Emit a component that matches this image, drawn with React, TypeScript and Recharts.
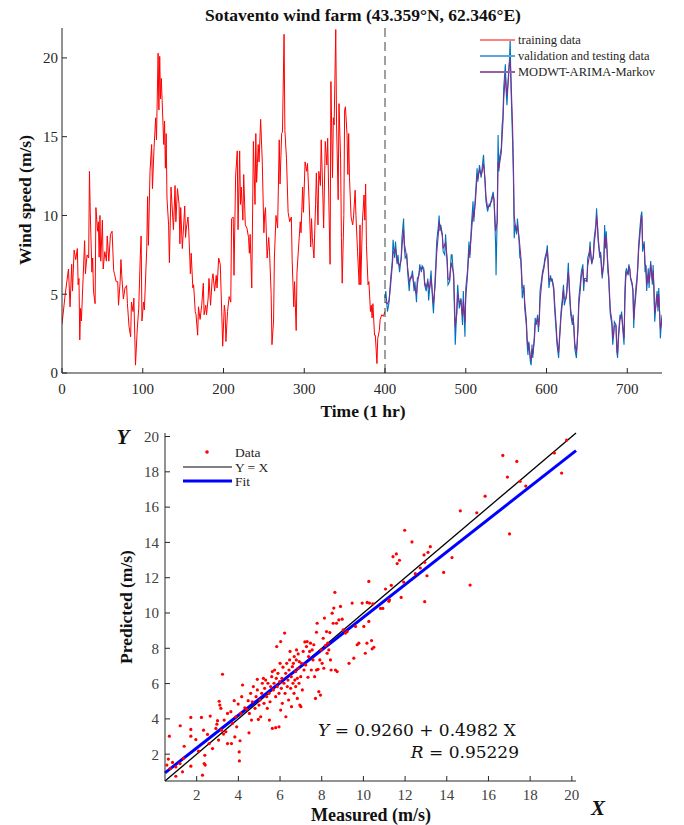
import React from 'react';
import { LineChart, Line, XAxis, YAxis, ReferenceLine, ScatterChart, Scatter } from 'recharts';

const FONT = '"Liberation Serif", "Times New Roman", serif';
const INK = '#262626';

// ---------- top chart data: [time (h), wind speed (m/s)] ----------
const trainingSeries: number[][] = [
  [0,3.1],[4,5.0],[8,6.6],[10,4.2],[12,6.9],[13,5.2],[15,7.8],[17,7.2],[19,7.9],[20,5.6],[21,6.0],[22,2.1],[23,4.1],[24,3.3],
  [28,8.4],[29,6.3],[31,7.5],[33,7.3],[34,12.8],[35,10.2],[37,6.4],[38,7.3],[39,5.2],[41,4.4],[42,10.5],[44,9.0],[45,9.6],
  [46,7.35],[47,10.0],[48,7.1],[50,9.7],[51,6.6],[53,7.7],[55,7.1],[56,8.7],[58,7.1],[60,8.8],[62,9.0],[64,6.5],[65,6.3],
  [67,5.8],[69,5.8],[70,4.3],[72,5.8],[73,7.2],[74,6.2],[76,4.7],[78,5.4],[80,5.55],[81,4.4],[83,2.95],[85,2.3],[86,4.5],
  [88,3.9],[89,4.75],[91,0.5],[93,2.6],[95,4.1],[97,7.5],[98,8.7],[99,3.3],[101,4.5],[102,4.0],[104,6.65],[105,8.0],
  [106,11.2],[107,8.1],[109,12.8],[111,14.5],[112,11.7],[114,14.3],[116,16.2],[117,14.8],[119,20.3],[120,16.7],[121,20.1],
  [122,17.4],[123,18.7],[124,17.3],[126,14.5],[127,16.0],[128,13.0],[129,15.2],[130,11.1],[132,9.4],[133,7.0],[135,11.8],
  [136,10.9],[138,9.1],[140,11.9],[141,9.6],[143,11.7],[145,10.7],[146,8.2],[147,10.5],[149,7.9],[150,8.8],[152,10.6],
  [153,8.6],[154,9.2],[156,9.9],[157,9.0],[159,6.3],[160,7.6],[162,5.4],[163,5.6],[165,3.9],[166,3.7],[168,2.4],[169,4.2],
  [171,3.4],[173,4.3],[175,5.7],[176,3.7],[178,4.3],[179,3.7],[181,4.75],[182,6.0],[184,4.3],[186,6.0],[187,6.3],[189,5.2],
  [191,6.2],[192,5.4],[194,7.3],[196,6.9],[198,3.5],[199,1.7],[201,4.3],[202,3.9],[203,2.0],[205,3.9],[207,4.85],[209,4.5],
  [210,9.8],[212,9.9],[213,6.2],[215,12.5],[217,14.1],[218,9.1],[220,14.1],[221,10.7],[222,11.8],[224,9.7],[225,12.6],
  [227,9.4],[229,9.2],[231,8.6],[232,7.6],[233,8.8],[235,5.4],[237,14.7],[239,10.7],[240,15.2],[241,12.1],[242,13.3],
  [243,14.5],[244,13.4],[246,16.1],[248,13.4],[250,8.9],[251,10.1],[252,10.5],[254,7.3],[256,8.6],[257,7.7],[259,5.0],
  [260,1.8],[262,3.3],[263,7.3],[265,10.0],[267,9.2],[269,14.8],[270,12.0],[272,15.2],[273,15.3],[275,21.5],[276,15.4],
  [278,13.6],[280,10.2],[282,9.6],[284,9.9],[285,7.2],[287,4.2],[288,5.8],[290,2.7],[291,6.4],[293,8.0],[295,9.6],[296,8.9],
  [298,11.8],[299,10.2],[301,13.4],[303,12.8],[304,13.3],[306,10.9],[308,8.0],[309,9.8],[310,8.6],[312,7.3],[314,10.7],
  [315,12.7],[317,9.4],[318,12.8],[320,11.9],[321,14.8],[323,11.3],[324,9.2],[326,14.7],[328,13.2],[329,14.9],[331,9.4],
  [332,6.9],[333,18.5],[335,12.4],[336,16.2],[337,15.75],[339,21.8],[340,15.75],[342,11.0],[343,17.1],[345,13.6],[346,8.6],
  [347,5.7],[349,10.0],[350,16.7],[351,16.9],[353,15.1],[354,12.6],[355,15.2],[356,12.4],[358,9.9],[360,9.4],[361,9.9],
  [363,11.6],[364,10.0],[366,7.7],[368,5.6],[369,9.4],[370,5.6],[372,9.6],[374,11.3],[375,9.7],[376,12.0],[377,8.1],
  [379,5.6],[380,5.8],[382,3.9],[383,4.3],[384,3.5],[385,4.4],[387,2.4],[388,2.4],[390,0.6],[391,2.2],[393,2.7],[394,3.4],
  [396,3.7],[398,3.6],[400,3.9]
];

const testingSeries: number[][] = [
  [400,4.75],[401,5.2],[403,3.9],[405,4.5],[407,6.0],[409,7.1],[410,8.45],[412,7.3],[413,8.35],[415,6.9],[416,7.5],[418,6.4],
  [420,7.3],[421,8.6],[423,9.8],[424,7.9],[425,7.3],[427,7.5],[428,6.4],[430,5.2],[431,6.0],[433,6.2],[434,6.5],[436,5.2],
  [437,5.8],[439,4.5],[440,6.0],[442,6.2],[443,6.9],[445,6.4],[446,6.8],[448,6.65],[449,5.6],[451,5.2],[453,6.0],[454,4.6],
  [455,5.2],[457,6.5],[459,4.5],[460,3.8],[462,6.0],[463,7.0],[464,8.35],[466,9.3],[467,10.0],[468,9.0],[469,9.4],[471,8.8],
  [472,7.7],[474,7.5],[475,8.8],[477,6.9],[478,5.6],[480,5.8],[482,7.5],[483,7.5],[485,6.0],[486,3.9],[487,1.8],[489,4.3],
  [490,5.6],[492,4.1],[494,4.75],[496,3.05],[497,5.2],[499,2.3],[500,5.4],[502,6.4],[504,8.35],[505,7.3],[507,9.4],
  [509,10.9],[510,9.6],[512,11.3],[514,13.0],[515,12.15],[517,13.2],[519,12.4],[520,12.9],[522,13.85],[524,11.9],[525,10.9],
  [527,10.25],[529,10.7],[530,10.6],[532,11.1],[534,11.5],[535,10.9],[537,8.1],[537.5,6.2],[539,10.25],[540,15.1],[541,12.8],
  [542,13.7],[544,14.3],[545,15.75],[546,16.2],[547,18.1],[549,19.6],[550,17.9],[551,17.0],[553,19.1],[554,19.8],[555,21.15],
  [556,18.1],[558,14.7],[559,12.4],[560,8.55],[561,9.4],[563,8.8],[564,9.8],[566,8.35],[567,7.3],[568,7.3],[569,6.2],
  [570,4.75],[572,5.6],[573,4.1],[575,3.05],[576,1.8],[577,1.15],[578,2.0],[580,0.7],[581,0.5],[582,1.8],[583,0.95],
  [585,2.4],[586,3.5],[587,3.05],[589,3.7],[590,2.6],[591,3.5],[592,5.2],[594,6.0],[595,6.4],[597,6.9],[598,7.3],[600,7.7],
  [601,8.1],[602,6.9],[603,5.4],[605,6.2],[606,5.8],[607,6.0],[609,5.2],[610,4.1],[612,2.6],[613,1.8],[615,0.95],[616,2.2],
  [617,3.05],[618,3.9],[620,4.95],[621,5.6],[622,4.3],[624,4.75],[625,5.2],[627,7.0],[628,5.6],[629,4.5],[630,3.7],
  [632,3.05],[633,3.7],[634,2.6],[635,1.55],[637,0.95],[638,2.0],[639,3.05],[640,4.75],[642,5.8],[643,6.4],[645,6.9],
  [646,5.2],[647,6.0],[649,6.0],[650,5.8],[651,7.3],[653,7.7],[654,8.35],[655,7.3],[656,6.9],[658,7.5],[659,8.55],[661,9.4],
  [662,10.45],[663,9.4],[664,8.35],[666,7.3],[667,7.7],[668,6.65],[669,6.0],[671,7.3],[672,9.4],[673,7.9],[674,9.0],
  [676,6.4],[677,6.0],[678,4.75],[679,3.7],[681,3.05],[682,1.8],[683,2.4],[684,3.25],[686,3.05],[687,1.35],[688,0.95],
  [689,2.4],[691,3.7],[692,3.5],[693,3.9],[694,3.05],[696,1.8],[697,5.2],[698,6.4],[699,6.65],[701,6.2],[702,6.9],[703,6.65],
  [704,6.0],[706,5.6],[707,5.2],[708,2.85],[709,4.3],[711,5.6],[712,6.0],[713,6.85],[714,8.1],[716,9.4],[717,10.0],
  [718,10.25],[719,7.7],[721,8.35],[722,6.4],[723,6.85],[724,5.2],[726,6.65],[727,5.4],[728,6.4],[729,7.1],[731,5.6],
  [732,6.85],[733,5.2],[734,3.25],[736,4.75],[737,5.2],[738,3.9],[739,5.4],[741,2.2],[742,3.05],[743,3.7]
];

const forecastSeries: number[][] = [
  [400,4.5],[403,4.4],[405,4.6],[407,5.6],[409,6.8],[410,7.6],[413,7.9],[415,7.1],[418,6.8],[420,7.2],[421,8.0],[423,9.1],
  [424,8.2],[427,7.3],[428,6.7],[430,5.8],[433,6.1],[434,6.2],[436,5.5],[439,5.0],[440,5.6],[443,6.6],[446,6.7],[448,6.5],
  [449,5.8],[451,5.4],[453,5.8],[455,5.3],[457,6.0],[459,4.9],[460,4.4],[462,5.5],[464,7.6],[466,8.8],[467,9.6],[469,9.2],
  [471,8.7],[472,7.9],[475,8.3],[477,7.2],[478,6.0],[480,5.9],[482,7.0],[485,6.3],[486,4.6],[487,2.9],[489,3.8],[490,5.0],
  [492,4.5],[494,4.6],[496,3.6],[497,4.6],[499,3.2],[500,4.8],[502,6.1],[504,7.8],[505,7.5],[507,8.9],[509,10.2],[510,9.9],
  [512,10.9],[514,12.5],[515,12.4],[517,12.9],[519,12.6],[520,12.7],[522,13.3],[524,12.2],[525,11.2],[527,10.5],[529,10.6],
  [532,10.9],[534,11.3],[535,11.0],[537,9.0],[539,9.6],[540,13.4],[541,13.0],[544,14.0],[546,15.9],[547,17.4],[549,18.9],
  [550,18.2],[551,17.6],[553,18.8],[554,19.6],[555,19.9],[556,18.7],[558,15.6],[559,13.2],[560,10.0],[561,9.5],[563,9.0],
  [564,9.4],[566,8.6],[568,7.5],[569,6.6],[570,5.4],[572,5.4],[573,4.5],[575,3.4],[576,2.2],[577,1.6],[578,1.9],[580,1.0],
  [581,0.8],[582,1.5],[583,1.2],[585,2.1],[586,3.1],[587,3.1],[589,3.5],[590,2.9],[591,3.3],[592,4.6],[594,5.7],[595,6.2],
  [597,6.7],[598,7.1],[600,7.5],[601,7.8],[602,7.1],[603,5.9],[605,6.0],[607,5.9],[609,5.4],[610,4.5],[612,3.0],[613,2.1],
  [615,1.3],[616,2.0],[617,2.8],[618,3.6],[620,4.6],[621,5.3],[622,4.7],[624,4.7],[625,5.0],[627,6.4],[628,5.8],[629,4.8],
  [630,4.0],[632,3.3],[633,3.5],[634,2.9],[635,1.9],[637,1.3],[638,1.9],[639,2.8],[640,4.3],[642,5.4],[643,6.1],[645,6.6],
  [646,5.7],[647,5.9],[650,5.8],[651,6.8],[653,7.4],[654,8.0],[655,7.5],[656,7.0],[658,7.3],[659,8.2],[661,9.1],[662,10.0],
  [663,9.5],[664,8.6],[666,7.5],[667,7.5],[668,6.9],[669,6.2],[671,6.9],[672,8.7],[673,8.0],[674,8.6],[676,6.9],[677,6.2],
  [678,5.1],[679,4.0],[681,3.3],[682,2.2],[683,2.4],[684,3.0],[686,3.0],[687,1.8],[688,1.2],[689,2.1],[691,3.4],[692,3.5],
  [693,3.7],[694,3.2],[696,2.2],[697,4.4],[698,5.9],[699,6.4],[701,6.3],[702,6.7],[703,6.6],[704,6.1],[706,5.7],[707,5.3],
  [708,3.4],[709,4.0],[711,5.2],[712,5.8],[713,6.6],[714,7.7],[716,9.0],[717,9.7],[718,10.0],[719,8.2],[721,8.1],[722,6.9],
  [723,6.8],[724,5.6],[726,6.3],[727,5.7],[728,6.2],[729,6.9],[731,5.9],[732,6.5],[733,5.5],[734,3.8],[736,4.5],[737,5.0],
  [738,4.2],[739,5.0],[741,2.8],[742,3.0],[743,3.5]
];

const timeTicks = [0, 100, 200, 300, 400, 500, 600, 700];
const speedTicks = [0, 5, 10, 15, 20];
const timeDomain = [0, 743];
const speedDomain = [0, 21.9];
const splitTime = 400;

// ---------- bottom chart data: [measured, predicted] ----------
const scatterPairs: number[][] = [
  [0.69,3.02],[0.64,1.72],[0.84,1.53],[0.57,1.38],[0.73,1.19],[1.0,0.75],[1.0,1.28],[1.2,1.47],[1.32,1.0],[1.4,2.45],
  [1.21,3.61],[1.36,1.76],[1.72,1.32],[1.72,3.4],[1.72,3.02],[1.72,4.08],[1.96,2.83],[2.09,2.17],[2.23,4.08],[2.28,0.81],
  [2.33,3.36],[2.36,1.47],[2.39,1.94],[2.41,1.38],[2.52,3.12],[2.6,2.6],[2.65,4.16],[2.76,2.32],[2.92,3.46],[3.0,3.9],
  [2.97,3.7],[3.05,2.8],[3.08,5.0],[3.11,4.78],[3.16,4.6],[3.24,6.53],[3.19,3.36],[3.32,3.93],[3.29,3.14],[3.4,3.27],
  [3.48,4.31],[3.48,2.6],[3.64,4.41],[3.67,2.6],[3.72,3.74],[3.8,5.03],[3.83,2.98],[3.88,4.12],[3.92,3.55],[3.99,4.84],
  [4.04,2.13],[4.05,1.62],[4.08,2.76],[4.12,4.31],[4.2,5.92],[4.16,5.26],[4.31,4.63],[4.4,4.54],[4.47,5.03],[4.51,3.21],
  [4.53,4.31],[4.59,5.45],[4.63,3.93],[4.67,4.97],[4.72,5.83],[4.8,4.6],[4.85,5.26],[4.91,5.64],[4.91,6.24],[4.96,3.97],
  [4.99,4.78],[5.04,5.07],[5.07,4.12],[5.12,5.45],[5.15,6.02],[5.2,6.3],[5.23,4.88],[5.26,5.73],[5.31,6.2],[5.36,5.26],
  [5.39,4.6],[5.42,6.02],[5.47,5.45],[5.49,3.93],[5.52,4.97],[5.55,5.83],[5.6,6.39],[5.63,3.46],[5.63,6.68],[5.68,5.64],
  [5.71,6.02],[5.74,6.77],[5.79,3.5],[5.79,5.26],[5.82,6.3],[5.84,8.1],[5.87,5.83],[5.9,6.58],[5.95,3.55],[5.95,5.45],
  [5.98,6.11],[6.0,7.15],[6.03,4.5],[6.03,8.38],[6.06,5.73],[6.09,6.3],[6.11,4.88],[6.14,6.93],[6.19,6.02],[6.22,8.86],
  [6.24,5.45],[6.27,6.58],[6.28,4.12],[6.32,7.15],[6.35,5.83],[6.38,6.2],[6.41,5.07],[6.43,6.77],[6.46,7.34],[6.48,7.82],
  [6.51,5.73],[6.54,6.39],[6.55,4.69],[6.59,6.96],[6.62,6.02],[6.64,7.15],[6.67,5.45],[6.68,7.53],[6.71,6.2],[6.75,6.68],
  [6.75,5.83],[6.78,7.34],[6.79,7.91],[6.83,6.3],[6.83,5.16],[6.86,6.87],[6.87,7.68],[6.91,6.02],[6.92,7.25],[6.95,4.78],
  [6.99,6.39],[7.0,4.69],[7.03,7.15],[7.07,5.64],[7.11,7.82],[7.15,6.77],[7.19,8.36],[7.23,7.06],[7.27,8.1],[7.3,8.38],
  [7.34,6.36],[7.37,7.53],[7.42,7.82],[7.46,8.29],[7.5,6.77],[7.54,7.91],[7.58,7.34],[7.62,8.2],[7.66,6.39],[7.7,5.16],
  [7.75,6.77],[7.75,8.91],[7.78,9.42],[7.82,6.81],[7.86,5.54],[7.91,7.34],[7.94,5.35],[7.97,7.91],[8.02,7.15],[8.07,8.57],
  [8.1,6.87],[8.13,9.71],[8.18,8.16],[8.23,8.95],[8.26,7.72],[8.29,8.29],[8.34,7.91],[8.39,8.89],[8.42,7.34],[8.45,6.77],
  [8.5,9.99],[8.55,9.42],[8.58,10.28],[8.63,11.17],[8.66,6.77],[8.71,9.42],[8.74,6.68],[8.82,9.61],[8.9,10.37],[8.98,9.65],
  [9.03,9.05],[9.14,8.86],[9.22,8.95],[9.31,7.15],[9.46,10.56],[9.54,7.44],[9.62,9.24],[9.7,8.2],[9.78,8.29],[9.94,10.56],
  [10.02,9.24],[10.09,7.72],[10.17,8.29],[10.26,11.79],[10.18,10.6],[10.29,10.56],[10.45,10.52],[10.26,9.52],[10.39,8.44],
  [10.42,7.97],[10.5,8.06],[10.82,10.26],[10.93,10.26],[11.06,11.36],[11.22,10.66],[11.34,11.57],[11.25,10.75],[11.81,10.88],
  [11.93,11.75],[11.98,14.69],[12.33,14.03],[12.49,12.23],[12.73,12.55],[12.94,12.87],[12.91,13.29],[12.94,10.64],
  [13.05,12.11],[13.1,13.44],[13.21,13.76],[11.42,13.19],[11.58,13.35],[11.62,12.8],[11.73,12.99],[13.85,12.3],[14.25,13.14],
  [14.65,15.79],[15.12,11.58],[15.44,15.68],[15.84,16.62],[16.69,18.93],[16.91,17.7],[17.01,14.48],[17.36,18.59],
  [17.52,17.46],[17.79,17.19],[19.16,19.07],[19.51,17.93],[19.75,19.8]
];

const scatterTicks = [2, 4, 6, 8, 10, 12, 14, 16, 18, 20];
const scatterDomain = [0.48, 20.2];
const fitIntercept = 0.4982;
const fitSlope = 0.926;

const trainingData = trainingSeries.map(([t, v]) => ({ t, v }));
const testingData = testingSeries.map(([t, v]) => ({ t, v }));
const forecastData = forecastSeries.map(([t, v]) => ({ t, v }));
const scatterData = scatterPairs.map(([x, y]) => ({ x, y }));

const tickStyle = { fill: INK, fontSize: 15, fontFamily: FONT };
const lineStyle = { stroke: INK, strokeWidth: 1 };

const RedDot = (p: any) => <circle cx={p.cx} cy={p.cy} r={1.6} fill="#ff0000" />;

function TopChart() {
  return (
    <LineChart width={684} height={420} margin={{ top: 28, right: 22, bottom: 0, left: 0 }}>
      <XAxis xAxisId="b" dataKey="t" type="number" domain={timeDomain} ticks={timeTicks} allowDataOverflow interval={0}
        height={47} tickSize={-5} tickMargin={15} axisLine={lineStyle} tickLine={lineStyle} tick={tickStyle} />
      <XAxis xAxisId="t" orientation="top" dataKey="t" type="number" domain={timeDomain} ticks={timeTicks} allowDataOverflow
        interval={0} height={0} tickSize={-5} axisLine={lineStyle} tickLine={lineStyle} tick={false} />
      <YAxis yAxisId="l" type="number" domain={speedDomain} ticks={speedTicks} allowDataOverflow interval={0}
        width={62} tickSize={-5} tickMargin={9} axisLine={lineStyle} tickLine={lineStyle} tick={tickStyle} />
      <YAxis yAxisId="r" orientation="right" type="number" domain={speedDomain} ticks={speedTicks} allowDataOverflow
        interval={0} width={0} tickSize={-5} axisLine={lineStyle} tickLine={lineStyle} tick={false} />
      <Line xAxisId="b" yAxisId="l" data={trainingData} dataKey="v" stroke="#ff0000" strokeWidth={1} dot={false}
        isAnimationActive={false} />
      <Line xAxisId="b" yAxisId="l" data={testingData} dataKey="v" stroke="#0072BD" strokeWidth={1.1} dot={false}
        isAnimationActive={false} />
      <Line xAxisId="b" yAxisId="l" data={forecastData} dataKey="v" stroke="#7E2F8E" strokeWidth={1.1} dot={false}
        isAnimationActive={false} />
      <ReferenceLine xAxisId="b" yAxisId="l" x={splitTime} stroke="#404040" strokeWidth={1} strokeDasharray="9 5" />
    </LineChart>
  );
}

function BottomChart() {
  const [a, b] = scatterDomain;
  return (
    <ScatterChart width={684} height={405} margin={{ top: 13, right: 108, bottom: 0, left: 0 }}>
      <XAxis xAxisId="b" dataKey="x" type="number" domain={scatterDomain} ticks={scatterTicks} allowDataOverflow interval={0}
        height={44} tickSize={-5} tickMargin={13} axisLine={lineStyle} tickLine={lineStyle} tick={{ ...tickStyle, fill: '#404040' }} />
      <XAxis xAxisId="t" orientation="top" dataKey="x" type="number" domain={scatterDomain} ticks={scatterTicks}
        allowDataOverflow interval={0} height={0} tickSize={-5} axisLine={lineStyle} tickLine={lineStyle} tick={false} />
      <YAxis yAxisId="l" dataKey="y" type="number" domain={scatterDomain} ticks={scatterTicks} allowDataOverflow interval={0}
        width={165} tickSize={-5} tickMargin={11} axisLine={lineStyle} tickLine={lineStyle} tick={{ ...tickStyle, fill: '#404040' }} />
      <YAxis yAxisId="r" orientation="right" dataKey="y" type="number" domain={scatterDomain} ticks={scatterTicks}
        allowDataOverflow interval={0} width={0} tickSize={-5} axisLine={lineStyle} tickLine={lineStyle} tick={false} />
      <Scatter xAxisId="b" yAxisId="l" data={scatterData} shape={RedDot} isAnimationActive={false} />
      <ReferenceLine xAxisId="b" yAxisId="l" segment={[{ x: a, y: a }, { x: b, y: b }]} stroke="#000000" strokeWidth={1.3}
        ifOverflow="visible" />
      <ReferenceLine xAxisId="b" yAxisId="l"
        segment={[{ x: a, y: fitIntercept + fitSlope * a }, { x: b, y: fitIntercept + fitSlope * b }]}
        stroke="#0000ff" strokeWidth={3} ifOverflow="visible" />
    </ScatterChart>
  );
}

function Overlay() {
  const bold = { fontFamily: FONT, fontWeight: 700, fill: '#111' } as const;
  return (
    <svg width={684} height={825} style={{ position: 'absolute', left: 0, top: 0, pointerEvents: 'none' }}>
      <text x={363} y={15} textAnchor="middle" dominantBaseline="central" fontSize={17.5} {...bold}>
        Sotavento wind farm (43.359°N, 62.346°E)
      </text>
      <text x={363} y={411} textAnchor="middle" dominantBaseline="central" fontSize={17.5} {...bold}>Time (1 hr)</text>
      <text transform="translate(25,200) rotate(-90)" textAnchor="middle" dominantBaseline="central" fontSize={17.5} {...bold}>
        Wind speed (m/s)
      </text>
      {/* top legend */}
      <g fontFamily={FONT} fontSize={12.5} fill={INK}>
        <line x1={480} x2={515} y1={40} y2={40} stroke="#ff8080" strokeWidth={2} />
        <text x={518} y={40} dominantBaseline="central">training data</text>
        <line x1={480} x2={515} y1={56} y2={56} stroke="#5aa6da" strokeWidth={2} />
        <text x={518} y={56} dominantBaseline="central">validation and testing data</text>
        <line x1={480} x2={515} y1={72} y2={72} stroke="#9660a6" strokeWidth={2} />
        <text x={518} y={72} dominantBaseline="central">MODWT-ARIMA-Markov</text>
      </g>
      {/* bottom labels */}
      <text x={371} y={815} textAnchor="middle" dominantBaseline="central" fontSize={18} {...bold}>Measured (m/s)</text>
      <text transform="translate(126,607) rotate(-90)" textAnchor="middle" dominantBaseline="central" fontSize={17.5} {...bold}>
        Predicted (m/s)
      </text>
      <text x={123} y={437} textAnchor="middle" dominantBaseline="central" fontSize={21} fontStyle="italic" {...bold}>Y</text>
      <text x={598} y={808} textAnchor="middle" dominantBaseline="central" fontSize={21} fontStyle="italic" {...bold}>X</text>
      <g fontFamily={FONT} fontSize={13.5} fill={INK}>
        <circle cx={207} cy={452} r={1.8} fill="#ff0000" />
        <text x={235} y={452} dominantBaseline="central">Data</text>
        <line x1={183} x2={232} y1={467} y2={467} stroke="#808080" strokeWidth={2} />
        <text x={235} y={467} dominantBaseline="central">Y = X</text>
        <line x1={183} x2={232} y1={481} y2={481} stroke="#0000ff" strokeWidth={3} />
        <text x={235} y={481} dominantBaseline="central">Fit</text>
      </g>
      <g fontFamily='"DejaVu Serif", serif' fontSize={17} fill="#111">
        <text x={318} y={730} dominantBaseline="central"><tspan fontStyle="italic">Y</tspan> = 0.9260 + 0.4982 X</text>
        <text x={519} y={752} textAnchor="end" dominantBaseline="central"><tspan fontStyle="italic">R</tspan> = 0.95229</text>
      </g>
    </svg>
  );
}

export default function App() {
  return (
    <div style={{ position: 'absolute', left: 0, top: 0, width: 684, height: 825, background: '#fff', fontFamily: FONT }}>
      <style>{`.recharts-cartesian-axis-tick text, .recharts-text { font-family: "Liberation Serif", "Times New Roman", serif !important; }`}</style>
      <div style={{ position: 'absolute', left: 0, top: 0 }}>
        <TopChart />
      </div>
      <div style={{ position: 'absolute', left: 0, top: 420 }}>
        <BottomChart />
      </div>
      <Overlay />
    </div>
  );
}
